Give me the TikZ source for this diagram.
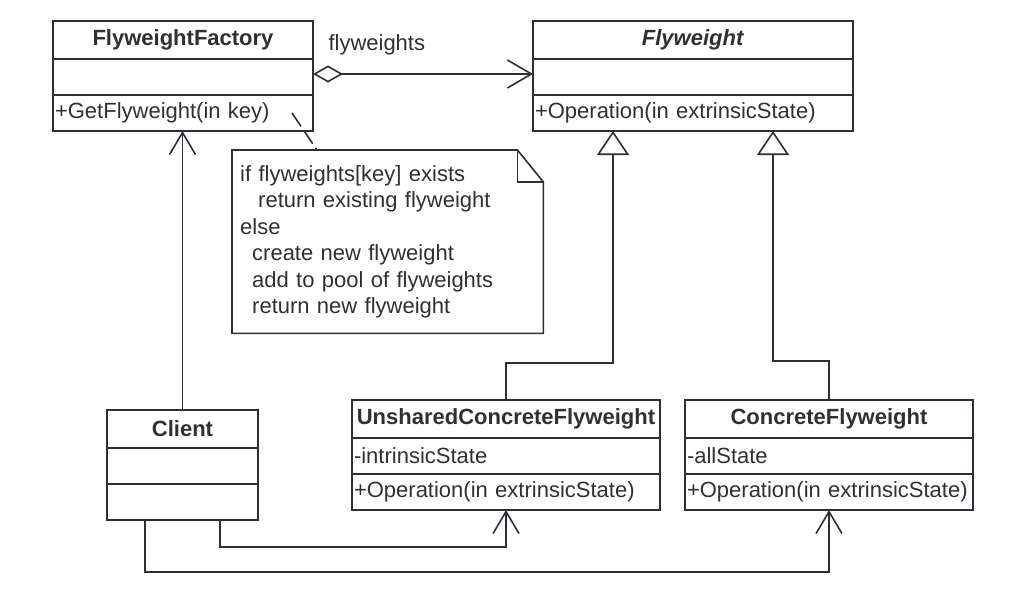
\documentclass[tikz,border=0pt]{standalone}
\usepackage{fontspec}
\setmainfont{Liberation Sans}
\usetikzlibrary{arrows.meta,positioning,calc}
\definecolor{umlline}{HTML}{2E2E36}
\definecolor{umltext}{HTML}{303030}

\begin{document}
\begin{tikzpicture}[
    x=1pt, y=-1pt,
    line/.style={draw=umlline, line width=1.6pt, line join=miter},
    head/.style={line, minimum width=#1, minimum height=38pt, inner sep=0pt, outer sep=0pt, text=umltext, font=\fontsize{22}{26}\selectfont\bfseries},
    part/.style={line, text width=#1, minimum height=36pt, inner xsep=2pt, inner ysep=0pt, outer sep=0pt, align=left, text=umltext, font=\fontsize{22}{26}\selectfont},
    notebox/.style={text width=295pt, minimum height=183pt, inner xsep=8pt, inner ysep=0pt, align=left, text=umltext, font=\fontsize{22}{26.5}\selectfont},
    assoc/.style={line, -{Straight Barb[length=22pt, width=26pt, line width=1.6pt]}},
    gen/.style={line, -{Triangle[open, length=24pt, width=32pt, line width=1.6pt, fill=white]}},
    aggr/.style={line, {Diamond[open, length=30pt, width=17pt, line width=1.6pt]}-{Straight Barb[length=24pt, width=28pt, line width=1.6pt]}},
    link/.style={line, dash pattern=on 16pt off 5pt}
  ]
    \useasboundingbox (0,0) rectangle (1030,598);

    % top row
    \node[head=260pt, anchor=north west] (fact) at (53,21) {FlyweightFactory};
    \node[part=256pt, below=0pt of fact] (factattr) {};
    \node[part=256pt, below=0pt of factattr] (factops) {+GetFlyweight(in key)};

    \node[head=320pt, anchor=north west] (fly) at (533,21) {\textit{Flyweight}};
    \node[part=316pt, below=0pt of fly] (flyattr) {};
    \node[part=316pt, below=0pt of flyattr] (flyops) {+Operation(in extrinsicState)};

    % note
    \node[notebox, anchor=north west] (note) at (232,150) {if flyweights[key] exists\\
      \hspace*{18pt}return existing flyweight\\
      else\\
      \hspace*{12pt}create new flyweight\\
      \hspace*{12pt}add to pool of flyweights\\
      \hspace*{12pt}return new flyweight};
    \draw[line] (note.north west) -- ([xshift=-26pt]note.north east) -- ([yshift=-32pt]note.north east) -- (note.south east) -- (note.south west) -- cycle;
    \draw[line] ([xshift=-26pt]note.north east) |- ([yshift=-32pt]note.north east);

    % bottom row
    \node[head=151pt, anchor=north west] (client) at (107,410) {Client};
    \node[part=147pt, below=0pt of client] (clientattr) {};
    \node[part=147pt, below=0pt of clientattr] (clientops) {};

    \node[head=308pt, anchor=north west] (uns) at (352,400) {UnsharedConcreteFlyweight};
    \node[part=304pt, below=0pt of uns] (unsattr) {-intrinsicState};
    \node[part=304pt, below=0pt of unsattr] (unsops) {+Operation(in extrinsicState)};

    \node[head=288pt, anchor=north west] (conc) at (685,400) {ConcreteFlyweight};
    \node[part=284pt, below=0pt of conc] (concattr) {-allState};
    \node[part=284pt, below=0pt of concattr] (concops) {+Operation(in extrinsicState)};

    % connectors
    \draw[aggr] ([yshift=3pt]factattr.east) -- node[pos=0.29, yshift=29pt, text=umltext, font=\fontsize{22}{26}\selectfont] (role) {flyweights} ([yshift=3pt]flyattr.west);
    \draw[link] ([xshift=-21pt]factops.east) -- ([xshift=85pt]note.north west);

    \draw[gen] (uns.north) -- ++(0,-37) -| ($(flyops.south west)!0.25!(flyops.south east)$);
    \draw[gen] (conc.north) -- ++(0,-39) -| ($(flyops.south west)!0.75!(flyops.south east)$);

    \draw[assoc] (client.north) -- (client.north |- factops.south);
    \draw[assoc] ($(clientops.south west)!0.75!(clientops.south east)$) -- ++(0,27) -| (unsops.south);
    \draw[assoc] ($(clientops.south west)!0.25!(clientops.south east)$) -- ++(0,52) -| (concops.south);
  \end{tikzpicture}
\end{document}
